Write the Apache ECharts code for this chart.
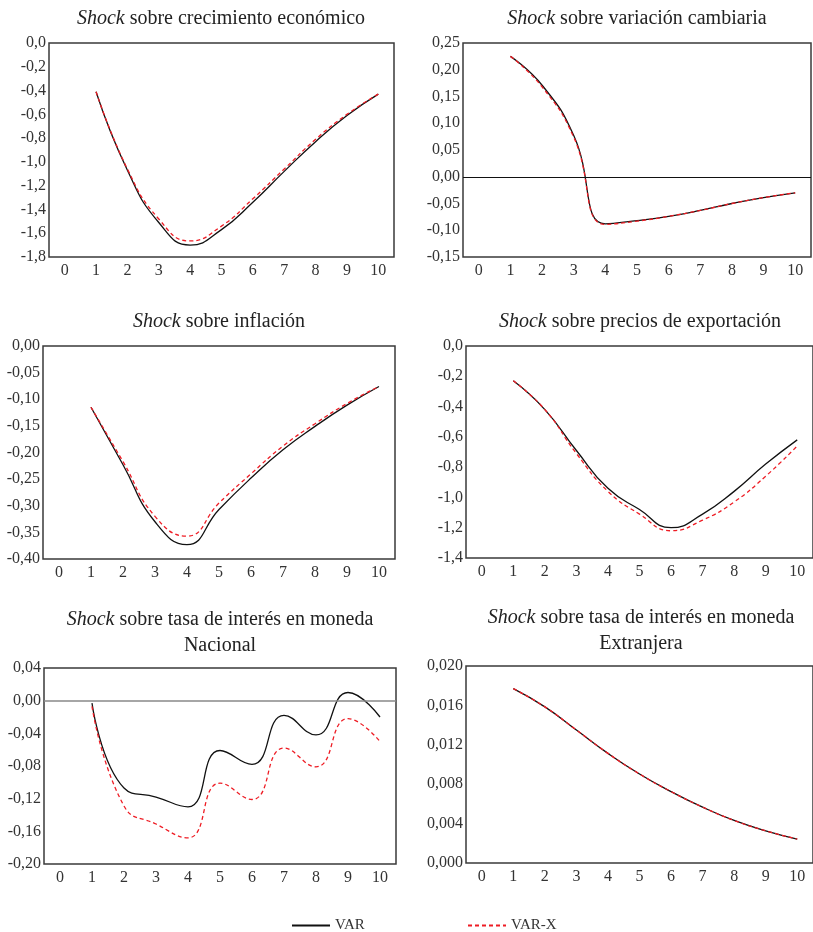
<!DOCTYPE html>
<html><head><meta charset="utf-8">
<script src="https://cdn.jsdelivr.net/npm/echarts@6/dist/echarts.min.js"></script>
<style>html,body{margin:0;padding:0;background:#fff}#c{width:813px;height:932px}</style>
</head><body><div id="c"></div>
<script>
// Horizon labels (0..10); responses start at horizon 1
const periods = ['0','1','2','3','4','5','6','7','8','9','10'];

const crecVAR  = [-0.41, -1.07, -1.51, -1.70, -1.57, -1.34, -1.08, -0.83, -0.61, -0.43];
const crecVARX = [-0.41, -1.06, -1.48, -1.665, -1.54, -1.31, -1.06, -0.81, -0.60, -0.43];

const cambVAR  = [0.225, 0.171, 0.077, -0.088, -0.082, -0.074, -0.063, -0.050, -0.039, -0.030];
const cambVARX = [0.225, 0.168, 0.074, -0.089, -0.083, -0.074, -0.063, -0.050, -0.039, -0.030];

const inflVAR  = [-0.115, -0.223, -0.330, -0.373, -0.307, -0.248, -0.195, -0.151, -0.111, -0.076];
const inflVARX = [-0.115, -0.217, -0.320, -0.357, -0.295, -0.240, -0.188, -0.146, -0.108, -0.076];

const expoVAR  = [-0.23, -0.42, -0.69, -0.94, -1.08, -1.20, -1.11, -0.96, -0.78, -0.62];
const expoVARX = [-0.23, -0.42, -0.71, -0.96, -1.11, -1.22, -1.15, -1.03, -0.86, -0.66];

const tmnVAR  = [-0.003, -0.107, -0.118, -0.130, -0.061, -0.078, -0.018, -0.042, 0.010, -0.020];
const tmnVARX = [-0.007, -0.129, -0.151, -0.168, -0.101, -0.121, -0.058, -0.081, -0.022, -0.050];

const tmeVAR  = [0.0177, 0.01585, 0.0135, 0.01113, 0.00904, 0.00725, 0.00567, 0.00432, 0.00327, 0.00243];
const tmeVARX = [0.0177, 0.01585, 0.0135, 0.01113, 0.00904, 0.00725, 0.00567, 0.00432, 0.00327, 0.00243];

const titles = [
  '{i|Shock} sobre crecimiento económico',
  '{i|Shock} sobre variación cambiaria',
  '{i|Shock} sobre inflación',
  '{i|Shock} sobre precios de exportación',
  '{i|Shock} sobre tasa de interés en moneda\nNacional',
  '{i|Shock} sobre tasa de interés en moneda\nExtranjera'
];
const seriesNames = ['VAR', 'VAR-X'];

const FONT = '"Liberation Serif", "DejaVu Serif", serif';
const panels = [
  {grid:{left:49, top:43, width:345, height:214}, y:{min:-1.8, max:0, interval:0.2, dec:1}, a:crecVAR, b:crecVARX, t:[221,19], zero:false},
  {grid:{left:463, top:43, width:348, height:214}, y:{min:-0.15, max:0.25, interval:0.05, dec:2}, a:cambVAR, b:cambVARX, t:[637,19], zero:'#111'},
  {grid:{left:43, top:346, width:352, height:213}, y:{min:-0.4, max:0, interval:0.05, dec:2}, a:inflVAR, b:inflVARX, t:[219,322], zero:false},
  {grid:{left:466, top:346, width:353, height:212}, y:{min:-1.4, max:0, interval:0.2, dec:1}, a:expoVAR, b:expoVARX, t:[640,322], zero:false},
  {grid:{left:44, top:668, width:352, height:196}, y:{min:-0.2, max:0.04, interval:0.04, dec:2}, a:tmnVAR, b:tmnVARX, t:[220,633], zero:'#888'},
  {grid:{left:466, top:666, width:353, height:197}, y:{min:0, max:0.02, interval:0.004, dec:3}, a:tmeVAR, b:tmeVARX, t:[641,631], zero:false}
];

const grid = [], xAxis = [], yAxis = [], series = [], graphic = [];
panels.forEach((p, i) => {
  grid.push(Object.assign({show:true, borderColor:'#3a3a3a', borderWidth:1.5, backgroundColor:'transparent'}, p.grid));
  xAxis.push({type:'category', gridIndex:i, data:periods, boundaryGap:true,
    axisLine:{show:false}, axisTick:{show:false}, splitLine:{show:false},
    axisLabel:{color:'#333', fontFamily:FONT, fontSize:16, margin:6, interval:0}});
  yAxis.push({type:'value', gridIndex:i, min:p.y.min, max:p.y.max, interval:p.y.interval,
    axisLine:{show:false}, axisTick:{show:false}, splitLine:{show:false},
    axisLabel:{color:'#333', fontFamily:FONT, fontSize:16, margin:3,
      formatter: v => { let s = Math.abs(v) < 1e-9 ? (0).toFixed(p.y.dec) : v.toFixed(p.y.dec); return s.replace('.', ','); }}});
  const black = {name:seriesNames[0], type:'line', xAxisIndex:i, yAxisIndex:i, smooth:true, symbol:'none',
    data:[null].concat(p.a), lineStyle:{color:'#111', width:1.3}, itemStyle:{color:'#111'}, z:3};
  if (p.zero) {
    black.markLine = {silent:true, symbol:'none', label:{show:false},
      lineStyle:{color:p.zero, type:'solid', width:p.zero === '#888' ? 1.6 : 1.2}, data:[{yAxis:0}], animation:false};
  }
  series.push(black);
  series.push({name:seriesNames[1], type:'line', xAxisIndex:i, yAxisIndex:i, smooth:true, symbol:'none',
    data:[null].concat(p.b), lineStyle:{color:'#ee1c24', width:1.3, type:[4,3]}, itemStyle:{color:'#ee1c24'}, z:4});
  graphic.push({type:'text', x:p.t[0], y:p.t[1], silent:true,
    style:{text:titles[i], align:'center', verticalAlign:'middle', fill:'#222',
      font:'20px ' + FONT, lineHeight:26,
      rich:{i:{fontStyle:'italic', fontFamily:FONT, fontSize:20, fill:'#222', lineHeight:26}}}});
});

const legendBase = {itemWidth:38, itemHeight:14, itemGap:0, top:913, selectedMode:false,
  itemStyle:{opacity:0, borderWidth:0},
  textStyle:{color:'#333', fontFamily:FONT, fontSize:15}};

const chart = echarts.init(document.getElementById('c'), null, {renderer:'canvas'});
chart.setOption({
  animation:false,
  backgroundColor:'#fff',
  grid, xAxis, yAxis, series, graphic,
  legend:[
    Object.assign({data:[seriesNames[0]], left:286}, legendBase),
    Object.assign({data:[seriesNames[1]], left:462}, legendBase)
  ]
});
</script>
</body></html>
